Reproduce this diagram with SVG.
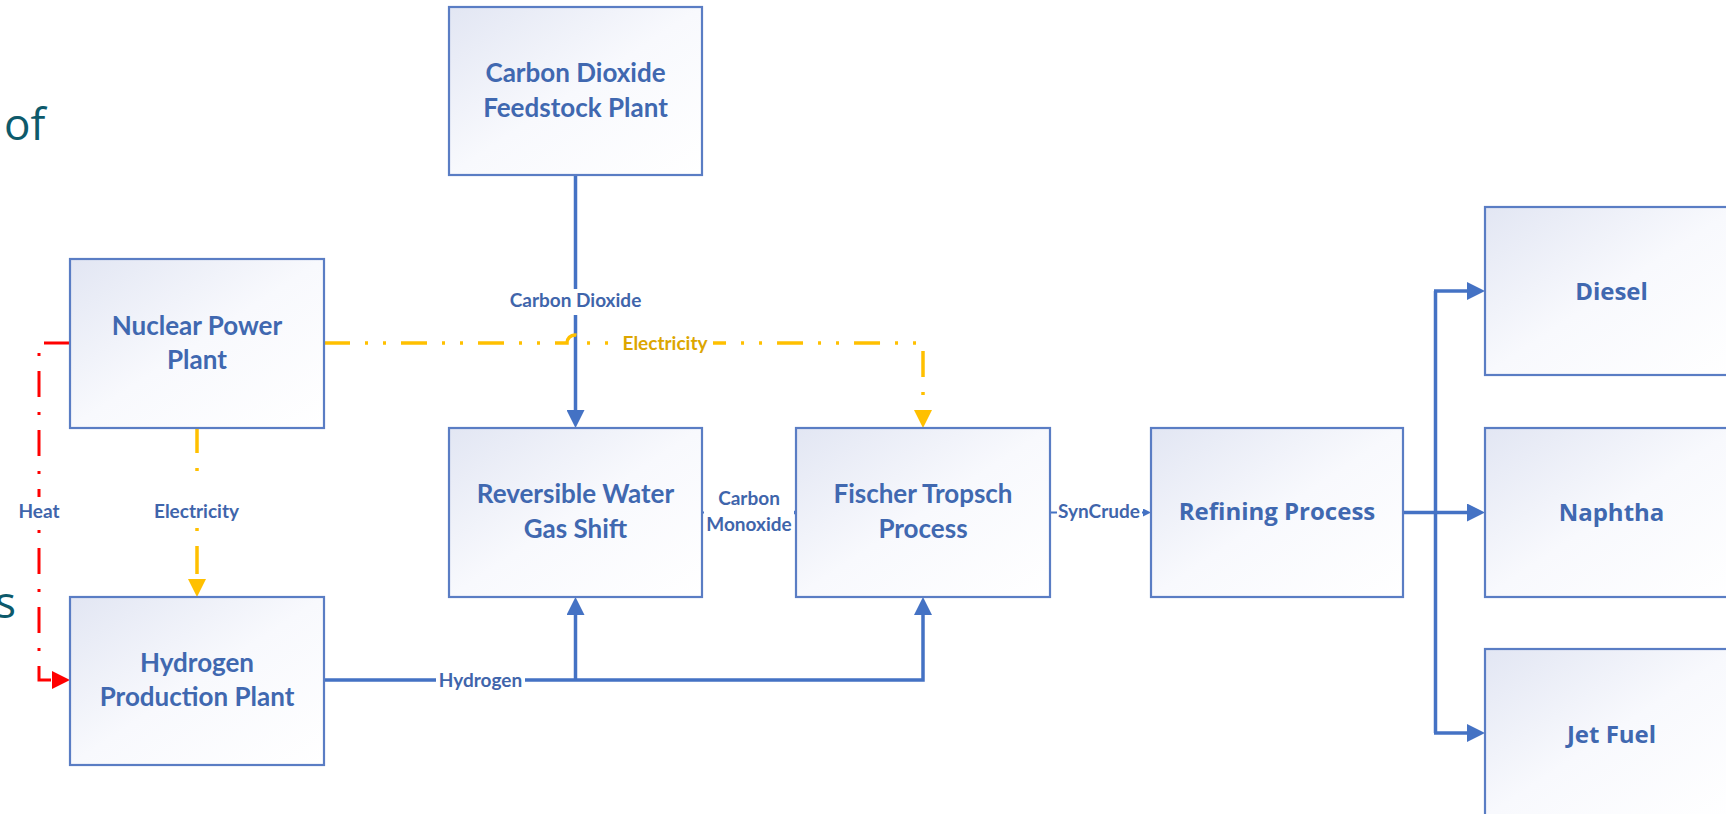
<svg xmlns="http://www.w3.org/2000/svg" width="1726" height="814" viewBox="0 0 1726 814">
<defs>
<linearGradient id="boxfill" x1="0" y1="0" x2="1" y2="1">
<stop offset="0" stop-color="#e2e6f3"/>
<stop offset="0.5" stop-color="#f8f9fd"/>
<stop offset="1" stop-color="#ffffff"/>
</linearGradient>
<marker id="arrBlue" viewBox="0 0 18 18" markerWidth="18" markerHeight="18" refX="0" refY="9" orient="auto" markerUnits="userSpaceOnUse">
<path d="M0,0 L18,9 L0,18 Z" fill="#4472c4"/>
</marker>
<marker id="arrSmall" viewBox="0 0 8 8" markerWidth="8" markerHeight="8" refX="0" refY="4" orient="auto" markerUnits="userSpaceOnUse">
<path d="M0,0 L8,4 L0,8 Z" fill="#4472c4"/>
</marker>
<marker id="arrYellow" viewBox="0 0 18 18" markerWidth="18" markerHeight="18" refX="0" refY="9" orient="auto" markerUnits="userSpaceOnUse">
<path d="M0,0 L18,9 L0,18 Z" fill="#ffc000"/>
</marker>
<marker id="arrRed" viewBox="0 0 18 18" markerWidth="18" markerHeight="18" refX="0" refY="9" orient="auto" markerUnits="userSpaceOnUse">
<path d="M0,0 L18,9 L0,18 Z" fill="#ff0000"/>
</marker>
</defs>
<style>
.box{fill:url(#boxfill);stroke:#5a7dc4;stroke-width:2.2}
.t{font-family:Lato,"Liberation Sans",sans-serif;font-weight:700;font-size:26px;fill:#4068b0;text-anchor:middle}
.t2{font-family:"Open Sans","Liberation Sans",sans-serif;font-weight:700;font-size:24px;fill:#4068b0;text-anchor:middle}
.lbl{font-family:Lato,"Liberation Sans",sans-serif;font-weight:700;font-size:19px;fill:#3f65ab;text-anchor:middle}
.lbly{font-family:Lato,"Liberation Sans",sans-serif;font-weight:700;font-size:19px;fill:#dca600;text-anchor:middle}
.blue{fill:none;stroke:#4472c4;stroke-width:3.5}
.thin{fill:none;stroke:#4472c4;stroke-width:2}
.yel{fill:none;stroke:#ffc000;stroke-width:3.5;stroke-dasharray:26 15 3 15 3 15}
.red{fill:none;stroke:#ff0000;stroke-width:3;stroke-dasharray:26 15 3 15}
.bg{fill:#ffffff}
.side{font-family:"Open Sans","Liberation Sans",sans-serif;font-size:44px;fill:#0d5a6b}
</style>
<rect width="1726" height="814" fill="#ffffff"/>
<text class="side" x="4" y="140">of</text>
<text class="side" x="-5" y="618">s</text>
<g id="connectors">
<path class="blue" d="M575.5,175 V410" marker-end="url(#arrBlue)"/>
<path class="yel" d="M324,343 H567 A8,8 0 0 1 583,343 H923 V410" marker-end="url(#arrYellow)"/>
<path class="yel" style="stroke-dasharray:25 15 3 57 3 15 28 40" d="M197,428 V579" marker-end="url(#arrYellow)"/>
<path class="red" d="M70,343 H39 V680 H52" marker-end="url(#arrRed)"/>
<path class="blue" d="M324,680 H923 V615" marker-end="url(#arrBlue)"/>
<path class="blue" d="M575.5,680 V615" marker-end="url(#arrBlue)"/>
<path class="thin" d="M702,512.5 H790" marker-end="url(#arrSmall)"/>
<path class="thin" d="M1050,512.5 H1143" marker-end="url(#arrSmall)"/>
<path class="blue" d="M1403,512.5 H1467" marker-end="url(#arrBlue)"/>
<path class="blue" d="M1435.5,291 V733"/>
<path class="blue" d="M1434,291 H1467" marker-end="url(#arrBlue)"/>
<path class="blue" d="M1434,733 H1467" marker-end="url(#arrBlue)"/>
<rect class="bg" x="506" y="289" width="139" height="26"/>
<text class="lbl" x="575.5" y="307">Carbon Dioxide</text>
<rect class="bg" x="617" y="331" width="96" height="26"/>
<text class="lbly" x="665" y="350">Electricity</text>
<rect class="bg" x="150" y="497" width="93" height="28"/>
<text class="lbl" x="196.5" y="518">Electricity</text>
<rect class="bg" x="16" y="497" width="46" height="28"/>
<text class="lbl" x="39" y="518">Heat</text>
<rect class="bg" x="436" y="668" width="89" height="26"/>
<text class="lbl" x="480.5" y="687">Hydrogen</text>
<rect class="bg" x="704" y="484" width="90" height="54"/>
<text class="lbl" x="749" y="505">Carbon</text>
<text class="lbl" x="749" y="531">Monoxide</text>
<rect class="bg" x="1057" y="500" width="85" height="26"/>
<text class="lbl" x="1099" y="518">SynCrude</text>
</g>
<g id="co2plant">
<rect class="box" x="449" y="7" width="253" height="168"/>
<text class="t" x="575.5" y="82">Carbon Dioxide</text>
<text class="t" x="575.5" y="117">Feedstock Plant</text>
</g>
<g id="nuclear">
<rect class="box" x="70" y="259" width="254" height="169"/>
<text class="t" x="197" y="335">Nuclear Power</text>
<text class="t" x="197" y="369">Plant</text>
</g>
<g id="hydrogen">
<rect class="box" x="70" y="597" width="254" height="168"/>
<text class="t" x="197" y="672">Hydrogen</text>
<text class="t" x="197" y="706">Production Plant</text>
</g>
<g id="rwgs">
<rect class="box" x="449" y="428" width="253" height="169"/>
<text class="t" x="575.5" y="503">Reversible Water</text>
<text class="t" x="575.5" y="538">Gas Shift</text>
</g>
<g id="fischer">
<rect class="box" x="796" y="428" width="254" height="169"/>
<text class="t" x="923" y="503">Fischer Tropsch</text>
<text class="t" x="923" y="538">Process</text>
</g>
<g id="refining">
<rect class="box" x="1151" y="428" width="252" height="169"/>
<text class="t2" x="1277" y="520">Refining Process</text>
</g>
<g id="diesel">
<rect class="box" x="1485" y="207" width="253" height="168"/>
<text class="t2" x="1611.5" y="300">Diesel</text>
</g>
<g id="naphtha">
<rect class="box" x="1485" y="428" width="253" height="169"/>
<text class="t2" x="1611.5" y="521">Naphtha</text>
</g>
<g id="jetfuel">
<rect class="box" x="1485" y="649" width="253" height="168"/>
<text class="t2" x="1611.5" y="743">Jet Fuel</text>
</g>
</svg>
